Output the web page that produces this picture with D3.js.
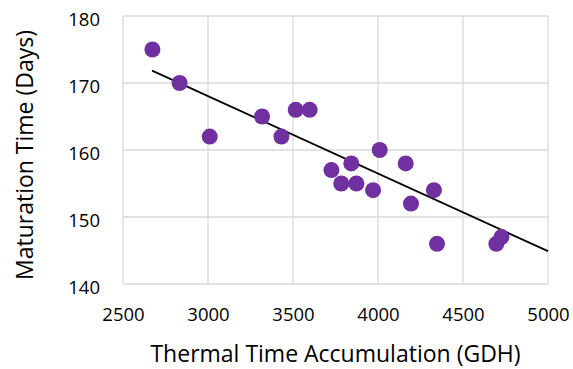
<!DOCTYPE html>
<html><head><meta charset="utf-8">
<script src="https://cdn.jsdelivr.net/npm/d3@7"></script>
<style>body{margin:0;background:#fff}svg{display:block}</style>
</head><body>
<script>
const gdh = [2673,2833,3010,3318,3432,3516,3598,3726,3784,3843,3873,3971,4010,4163,4194,4329,4347,4696,4726];
const days = [175,170,162,165,162,166,166,157,155,158,155,154,160,158,152,154,146,146,147];
const trendX = [2671,5000];
const trendY = [171.85,144.9];
const xTicks = [2500,3000,3500,4000,4500,5000];
const yTicks = [140,150,160,170,180];

const W=573,H=369;
const m={l:123,r:25,t:16,b:85};
const svg=d3.select("body").append("svg").attr("width",W).attr("height",H);
const x=d3.scaleLinear().domain([2500,5000]).range([m.l,W-m.r]);
const y=d3.scaleLinear().domain([140,180]).range([H-m.b,m.t]);
const font="'Open Sans', sans-serif";

const g=svg.append("g");
g.selectAll(".vg").data(xTicks).join("line")
 .attr("x1",d=>x(d)).attr("x2",d=>x(d)).attr("y1",y(140)).attr("y2",y(180))
 .attr("stroke","#d9d9d9").attr("stroke-width",1.3);
g.selectAll(".hg").data(yTicks).join("line")
 .attr("x1",x(2500)).attr("x2",x(5000)).attr("y1",d=>y(d)).attr("y2",d=>y(d))
 .attr("stroke","#d9d9d9").attr("stroke-width",1.3);

const xa=svg.append("g").attr("transform",`translate(0,${y(140)})`)
 .call(d3.axisBottom(x).tickValues(xTicks).tickSize(0).tickPadding(24).tickFormat(d3.format("d")));
xa.select(".domain").remove();
xa.selectAll("text").attr("font-family",font).attr("font-size",18.5).attr("fill","#000");

const ya=svg.append("g").attr("transform",`translate(${x(2500)},0)`)
 .call(d3.axisLeft(y).tickValues(yTicks).tickSize(0).tickPadding(23).tickFormat(d3.format("d")));
ya.select(".domain").remove();
ya.selectAll("text").attr("font-family",font).attr("font-size",18.5).attr("fill","#000").attr("dy","0.5em");

svg.append("line")
 .attr("x1",x(trendX[0])).attr("y1",y(trendY[0])).attr("x2",x(trendX[1])).attr("y2",y(trendY[1]))
 .attr("stroke","#000").attr("stroke-width",1.8);

svg.selectAll("circle").data(gdh.map((v,i)=>[v,days[i]])).join("circle")
 .attr("cx",d=>x(d[0])).attr("cy",d=>y(d[1])).attr("r",8).attr("fill","#7030A0");

svg.append("text").attr("x",(x(2500)+x(5000))/2).attr("y",362)
 .attr("text-anchor","middle").attr("font-family",font).attr("font-size",23)
 .text("Thermal Time Accumulation (GDH)");
svg.append("text").attr("transform",`translate(33,155) rotate(-90)`)
 .attr("text-anchor","middle").attr("font-family",font).attr("font-size",23)
 .text("Maturation Time (Days)");
</script>
</body></html>
